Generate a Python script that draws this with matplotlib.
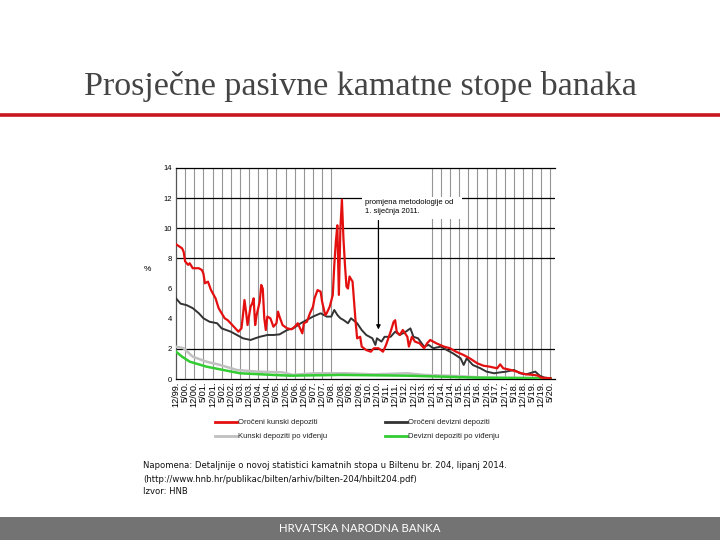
import matplotlib
matplotlib.use("Agg")
import matplotlib.pyplot as plt
from matplotlib.lines import Line2D
from matplotlib.patches import Rectangle

# ---- data (months since 12/1999, values in %) ----
red_m = [0,4,5,6,8,9,11,15,17,18,19,21,23,26,28,30,32,34,38,41,43,44,45,46,47,49,50,51,52,53,55,56,57,58,59,60,62,64,66,67,68,70,73,76,78,80,83,84,86,88,90,91,93,95,96,98,99,101,103,104,105,106,107,108,109,110,111,112,113,114,116,117,118,119,121,122,125,128,130,133,136,138,141,143,144,145,147,149,152,153,155,157,160,163,165,167,171,176,180,184,189,193,198,202,206,211,213,215,220,224,227,230,235,238,240,246]
red_v = [8.94,8.67,8.45,7.8,7.57,7.68,7.35,7.35,7.23,7.0,6.35,6.46,5.9,5.35,4.7,4.36,4.03,3.9,3.47,3.14,3.36,4.25,5.24,4.47,3.58,4.8,5.0,5.35,3.58,4.25,5.13,6.24,6.0,4.03,3.25,4.14,4.03,3.47,3.7,4.47,4.14,3.58,3.36,3.3,3.47,3.7,3.03,3.7,3.8,4.36,4.8,5.35,5.9,5.8,5.13,4.25,4.36,4.8,5.58,7.57,9.1,10.2,5.58,10.0,11.9,9.34,7.57,6.13,6.0,6.8,6.46,5.13,3.8,2.7,2.8,2.15,1.92,1.81,2.04,2.04,1.81,2.26,3.14,3.8,3.9,3.14,2.92,3.25,2.8,2.15,2.8,2.48,2.37,2.04,2.37,2.59,2.37,2.15,2.04,1.81,1.59,1.37,1.04,0.88,0.82,0.71,0.97,0.71,0.6,0.49,0.38,0.31,0.27,0.22,0.09,0.05]

blk_m = [0,3,7,11,15,18,22,27,30,36,40,44,49,52,55,60,64,68,73,77,82,86,90,95,99,102,104,106,108,110,113,115,119,122,125,129,131,132,135,137,141,144,147,151,154,156,159,163,166,169,174,178,182,187,189,191,195,200,204,209,213,217,222,226,230,236,239,242,246]
blk_v = [5.35,5.0,4.9,4.7,4.36,4.03,3.8,3.7,3.36,3.14,2.92,2.7,2.59,2.7,2.8,2.92,2.92,2.96,3.25,3.36,3.7,3.92,4.14,4.36,4.14,4.14,4.58,4.25,4.03,3.92,3.7,4.03,3.7,3.25,2.92,2.7,2.26,2.7,2.48,2.8,2.8,3.14,2.92,3.14,3.36,2.8,2.7,2.15,2.26,2.04,2.15,1.92,1.7,1.37,0.93,1.37,0.93,0.71,0.49,0.38,0.44,0.49,0.6,0.38,0.31,0.49,0.22,0.09,0.05]

gry_m = [0,5,11,20,29,40,53,70,77,90,112,130,152,163,184,202,246]
gry_v = [2.15,2.04,1.48,1.15,0.93,0.6,0.49,0.44,0.27,0.38,0.38,0.31,0.38,0.27,0.2,0.09,0.05]

grn_m = [0,4,9,20,31,42,64,75,108,152,198,246]
grn_v = [1.81,1.48,1.15,0.82,0.6,0.38,0.27,0.22,0.27,0.22,0.09,0.05]

tick_labels = ["12/99."]
for yy in range(0, 20):
    tick_labels += ["5/%02d." % yy, "12/%02d." % yy]
tick_labels += ["5/20."]

series_names = ["Oročeni kunski depoziti", "Oročeni devizni depoziti",
                "Kunski depoziti po viđenju", "Devizni depoziti po viđenju"]
series_colors = ["#e41010", "#333333", "#c0c0c0", "#33cc33"]

# ---- figure ----
W, H = 720, 540
fig = plt.figure(figsize=(7.2, 5.4), dpi=100)
fig.patch.set_facecolor("white")

def fx(px):
    return px / W

def fy(py):
    return 1 - py / H

# title
fig.text(0.5, fy(87), "Prosječne pasivne kamatne stope banaka",
         family="Liberation Serif", fontsize=24.5, color="#444444",
         ha="center", va="center")
fig.add_artist(Line2D([0, 1], [fy(114.5), fy(114.5)], color="#c8161d", lw=2.6))

# bottom bar
fig.add_artist(Rectangle((0, 0), 1, fy(517), transform=fig.transFigure,
                         facecolor="#737373", edgecolor="none"))
fig.text(0.5, fy(528.5), "HRVATSKA NARODNA BANKA", family="Lato", fontsize=8.2,
         color="white", ha="center", va="center")

# axes
L, R, T, B = 176, 555, 168, 379
ax = fig.add_axes([fx(L), fy(B), fx(R - L), (B - T) / H])
ax.set_xlim(0, 249)
ax.set_ylim(0, 14)

tick_pos = [6 * i for i in range(len(tick_labels))]
ax.set_xticks(tick_pos)
ax.set_xticklabels(tick_labels, rotation=90, fontsize=6.6, family="Liberation Sans")
ax.set_yticks(range(0, 15, 2))
ax.set_yticklabels([str(v) for v in range(0, 15, 2)], fontsize=5.5, family="Liberation Sans")
ax.tick_params(length=0, pad=3)
ax.tick_params(axis="x", pad=2)

ax.spines["right"].set_visible(False)
ax.spines["top"].set_color("black")
ax.spines["left"].set_color("#555555")
ax.spines["bottom"].set_color("black")
for s in ["top", "left", "bottom"]:
    ax.spines[s].set_linewidth(0.9)

# vertical grid (gap in the middle as in original)
for i, p in enumerate(tick_pos):
    if i == 0 or 18 <= i <= 27:
        continue
    ax.axvline(p, color="#959595", lw=0.8, zorder=1)
for yv in [2, 8, 10, 12]:
    ax.axhline(yv, color="black", lw=0.9, zorder=1.5)

ax.text(-0.075, 0.52, "%", transform=ax.transAxes, fontsize=6, ha="center", va="center",
        family="Liberation Sans")

# annotation box
ax.add_patch(Rectangle((122, 10.6), 66, 1.45, facecolor="white", edgecolor="none", zorder=2))
ax.text(124, 11.7, "promjena metodologije od", fontsize=5.5, family="Liberation Sans",
        va="center", ha="left", zorder=3)
ax.text(124, 11.1, "1. siječnja 2011.", fontsize=5.5, family="Liberation Sans",
        va="center", ha="left", zorder=3)
ax.annotate("", xy=(133, 3.1), xytext=(133, 10.7),
            arrowprops=dict(arrowstyle="-|>", color="black", lw=0.9,
                            mutation_scale=6), zorder=3)

# series
ax.plot(gry_m, gry_v, color=series_colors[2], lw=1.8, zorder=4)
ax.plot(grn_m, grn_v, color=series_colors[3], lw=1.8, zorder=4.5)
ax.plot(blk_m, blk_v, color=series_colors[1], lw=1.4, zorder=5)
ax.plot(red_m, red_v, color=series_colors[0], lw=1.6, zorder=6)

# legend (manual)
leg_pos = [(215, 422), (385, 422), (215, 436), (385, 436)]
for (x0, y0), name, col in zip(leg_pos, series_names, series_colors):
    fig.add_artist(Line2D([fx(x0), fx(x0 + 22)], [fy(y0), fy(y0)], color=col, lw=2))
    fig.text(fx(x0 + 23), fy(y0), name, fontsize=5.5, family="Liberation Sans",
             va="center", ha="left", color="#222222")

# footnote
notes = ["Napomena: Detaljnije o novoj statistici kamatnih stopa u Biltenu br. 204, lipanj 2014.",
         "(http://www.hnb.hr/publikac/bilten/arhiv/bilten-204/hbilt204.pdf)",
         "Izvor: HNB"]
for k, line in enumerate(notes):
    fig.text(fx(143), fy(466 + 13 * k), line, fontsize=6.1, family="DejaVu Sans",
             va="center", ha="left", color="#111111")

fig.savefig("out.png", dpi=100, facecolor="white")
